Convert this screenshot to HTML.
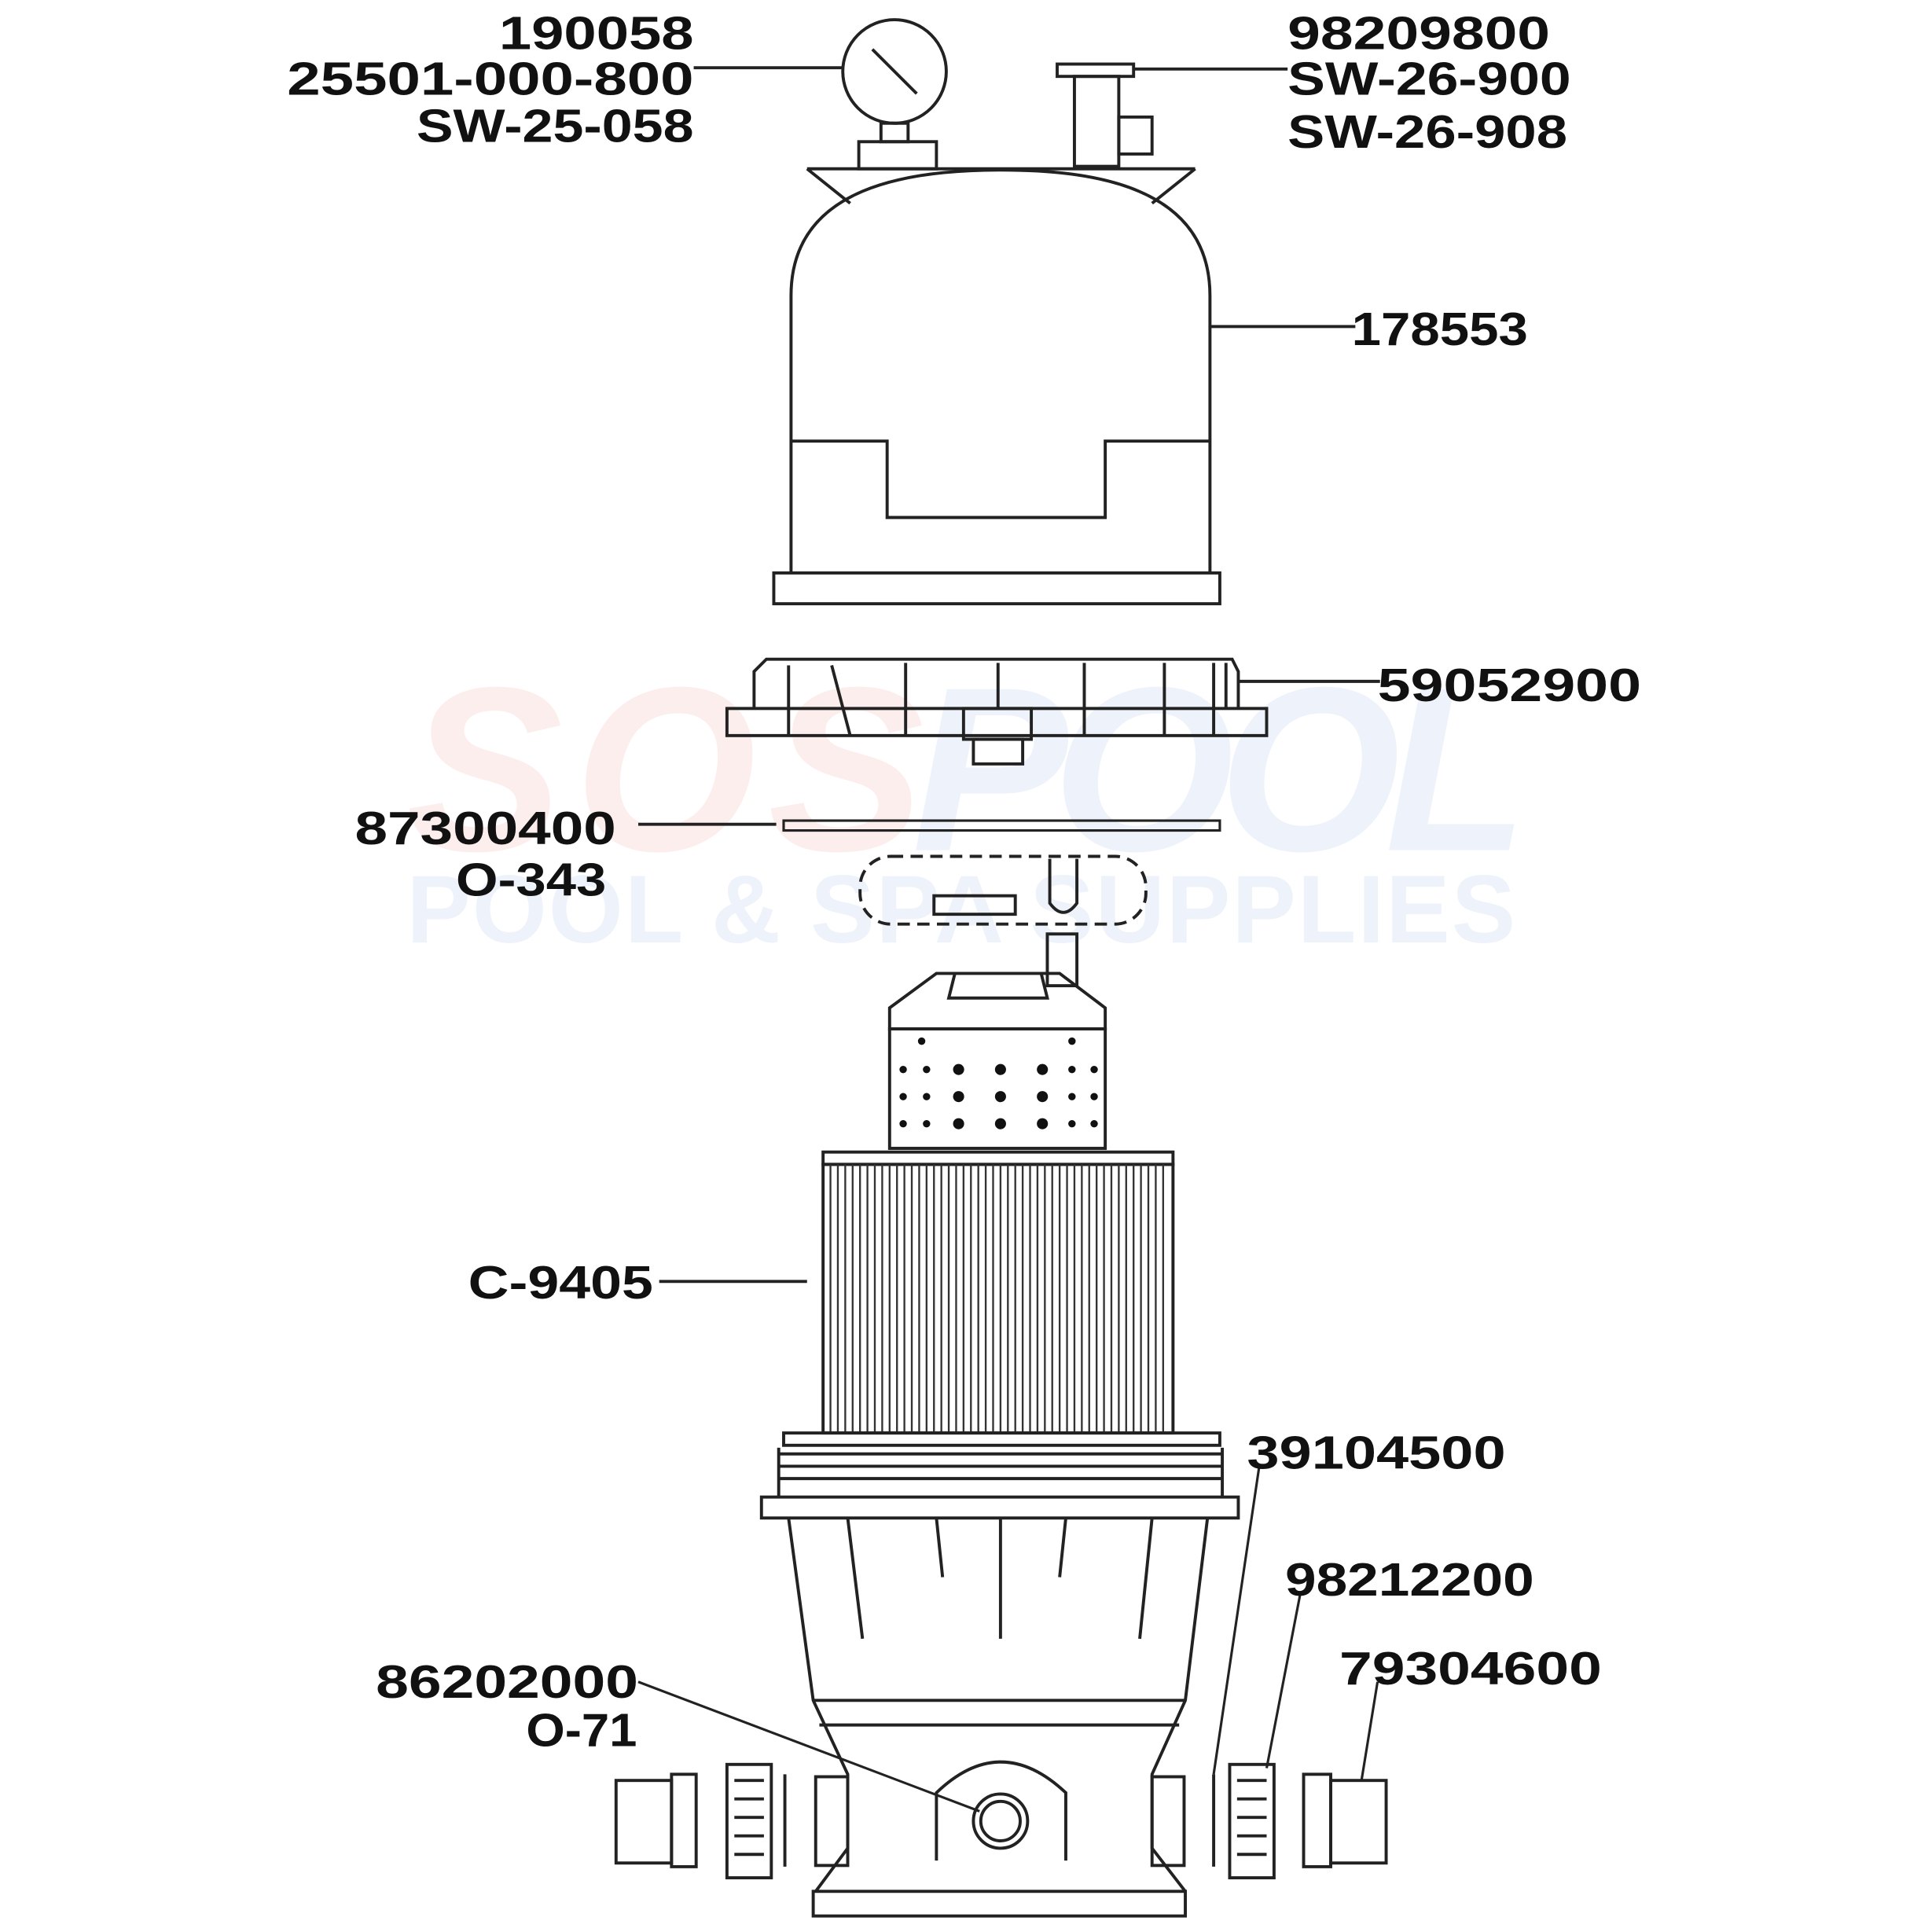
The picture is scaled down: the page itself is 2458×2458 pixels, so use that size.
<!DOCTYPE html>
<html><head><meta charset="utf-8">
<style>
html,body{margin:0;padding:0;background:#fff;}
svg{display:block;}
text{font-family:"Liberation Sans",sans-serif;font-weight:bold;fill:#111;}
</style></head>
<body>
<svg width="2458" height="2458" viewBox="0 0 1568 1568" xmlns="http://www.w3.org/2000/svg">
<rect width="1568" height="1568" fill="#fff"/>
<text x="330" y="690" font-size="190" style="fill:#fdeeee;font-style:italic" textLength="420">SOS</text>
<text x="740" y="690" font-size="190" style="fill:#eef2fb;font-style:italic" textLength="500">POOL</text>
<text x="330" y="765" font-size="78" style="fill:#eef2fb" textLength="900">POOL &amp; SPA SUPPLIES</text>

<g fill="none" stroke="#222" stroke-width="2.5">
<circle cx="726" cy="58" r="42"/>
<line x1="708" y1="40" x2="744" y2="76"/>
<rect x="715" y="100" width="22" height="15"/>
<rect x="697" y="115" width="63" height="22"/>
<line x1="563" y1="55" x2="684" y2="55"/>
<rect x="858" y="52" width="62" height="10"/>
<rect x="872" y="62" width="36" height="73"/>
<rect x="908" y="95" width="27" height="30"/>
<line x1="920" y1="56" x2="1045" y2="56"/>
<path d="M655 137 H970 M655 137 L690 165 M970 137 L935 165"/>
<path d="M642 465 V240 C642 150 740 138 812 138 C885 138 982 150 982 240 V465"/>
<path d="M642 358 H720 V420 H897 V358 H982"/>
<rect x="628" y="465" width="362" height="25"/>
<line x1="982" y1="265" x2="1100" y2="265"/>
<path d="M612 575 V545 L622 535 H1000 L1005 545 V575"/>
<rect x="590" y="575" width="438" height="22"/>
<path d="M640 540 V597 M675 540 L690 597 M735 538 V597 M810 538 V575 M880 538 V597 M945 538 V597 M985 538 V597 M995 538 V575"/>
<rect x="782" y="575" width="55" height="25"/>
<rect x="790" y="600" width="40" height="20"/>
<line x1="1005" y1="553" x2="1120" y2="553"/>
<rect x="636" y="666" width="354" height="8" stroke-width="2"/>
<line x1="518" y1="669" x2="630" y2="669"/>
<rect x="698" y="695" width="232" height="55" rx="25" stroke-dasharray="10 6"/>
<rect x="758" y="727" width="66" height="15"/>
<path d="M852 697 V733 Q863 748 874 733 V697"/>
<rect x="850" y="758" width="24" height="42"/>
<path d="M722 835 V818 L760 790 H860 L897 818 V835 Z"/>
<path d="M775 790 L770 810 H850 L845 790"/>
<rect x="722" y="835" width="175" height="97"/>
</g>
<g fill="#111">
<circle cx="748" cy="845" r="3"/><circle cx="870" cy="845" r="3"/>
<circle cx="733" cy="868" r="3"/><circle cx="733" cy="890" r="3"/><circle cx="733" cy="912" r="3"/>
<circle cx="752" cy="868" r="3"/><circle cx="752" cy="890" r="3"/><circle cx="752" cy="912" r="3"/>
<circle cx="778" cy="868" r="4.5"/><circle cx="778" cy="890" r="4.5"/><circle cx="778" cy="912" r="4.5"/>
<circle cx="812" cy="868" r="4.5"/><circle cx="812" cy="890" r="4.5"/><circle cx="812" cy="912" r="4.5"/>
<circle cx="846" cy="868" r="4.5"/><circle cx="846" cy="890" r="4.5"/><circle cx="846" cy="912" r="4.5"/>
<circle cx="870" cy="868" r="3"/><circle cx="870" cy="890" r="3"/><circle cx="870" cy="912" r="3"/>
<circle cx="888" cy="868" r="3"/><circle cx="888" cy="890" r="3"/><circle cx="888" cy="912" r="3"/>
</g>
<g fill="none" stroke="#222" stroke-width="2.5">
<rect x="668" y="935" width="284" height="10"/>
<rect x="668" y="945" width="284" height="218"/>
</g>
<path stroke="#333" stroke-width="1.5" fill="none" d="M674 945V1163M680 945V1163M686 945V1163M692 945V1163M698 945V1163M704 945V1163M710 945V1163M716 945V1163M722 945V1163M728 945V1163M734 945V1163M740 945V1163M746 945V1163M752 945V1163M758 945V1163M764 945V1163M770 945V1163M776 945V1163M782 945V1163M788 945V1163M794 945V1163M800 945V1163M806 945V1163M812 945V1163M818 945V1163M824 945V1163M830 945V1163M836 945V1163M842 945V1163M848 945V1163M854 945V1163M860 945V1163M866 945V1163M872 945V1163M878 945V1163M884 945V1163M890 945V1163M896 945V1163M902 945V1163M908 945V1163M914 945V1163M920 945V1163M926 945V1163M932 945V1163M938 945V1163M944 945V1163"/>
<g fill="none" stroke="#222" stroke-width="2.5">
<line x1="535" y1="1040" x2="655" y2="1040"/>
<rect x="636" y="1163" width="354" height="10"/>
<path d="M632 1180 H992 M632 1190 H992 M632 1200 H992"/>
<path d="M632 1175 V1215 M992 1175 V1215"/>
<rect x="618" y="1215" width="387" height="17"/>
<path d="M640 1232 L660 1380 L688 1440 V1500 L662 1535 M980 1232 L962 1380 L935 1440 V1500 L962 1535"/>
<path d="M660 1380 H962 M665 1400 H957"/>
<path d="M688 1232 L700 1330 M812 1232 V1330 M935 1232 L925 1330 M760 1232 L765 1280 M865 1232 L860 1280"/>
<rect x="660" y="1535" width="302" height="20"/>
<path d="M760 1510 V1455 Q812 1405 865 1455 V1510"/>
<circle cx="812" cy="1478" r="22"/>
<circle cx="812" cy="1478" r="16"/>
<rect x="500" y="1445" width="45" height="67"/>
<rect x="545" y="1440" width="20" height="75"/>
<rect x="590" y="1432" width="36" height="92"/>
<path d="M596 1445 H620 M596 1460 H620 M596 1475 H620 M596 1490 H620 M596 1505 H620"/>
<line x1="637" y1="1440" x2="637" y2="1515"/>
<rect x="662" y="1442" width="26" height="72"/>
<rect x="935" y="1442" width="26" height="72"/>
<line x1="985" y1="1440" x2="985" y2="1515"/>
<rect x="998" y="1432" width="36" height="92"/>
<path d="M1004 1445 H1028 M1004 1460 H1028 M1004 1475 H1028 M1004 1490 H1028 M1004 1505 H1028"/>
<rect x="1058" y="1440" width="22" height="75"/>
<rect x="1080" y="1445" width="45" height="67"/>
<line x1="518" y1="1365" x2="795" y2="1470" stroke-width="2"/>
<line x1="1022" y1="1190" x2="985" y2="1440" stroke-width="2"/>
<line x1="1055" y1="1295" x2="1028" y2="1435" stroke-width="2"/>
<line x1="1118" y1="1365" x2="1105" y2="1445" stroke-width="2"/>
</g>
<g font-size="38">
<text x="405" y="40" textLength="158" lengthAdjust="spacingAndGlyphs">190058</text>
<text x="233" y="77" textLength="330" lengthAdjust="spacingAndGlyphs">25501-000-800</text>
<text x="338" y="115" textLength="225" lengthAdjust="spacingAndGlyphs">SW-25-058</text>
<text x="1045" y="40" textLength="213" lengthAdjust="spacingAndGlyphs">98209800</text>
<text x="1045" y="77" textLength="230" lengthAdjust="spacingAndGlyphs">SW-26-900</text>
<text x="1045" y="120" textLength="227" lengthAdjust="spacingAndGlyphs">SW-26-908</text>
<text x="1097" y="280" textLength="143" lengthAdjust="spacingAndGlyphs">178553</text>
<text x="1118" y="569" textLength="214" lengthAdjust="spacingAndGlyphs">59052900</text>
<text x="288" y="685" textLength="212" lengthAdjust="spacingAndGlyphs">87300400</text>
<text x="370" y="727" textLength="122" lengthAdjust="spacingAndGlyphs">O-343</text>
<text x="380" y="1054" textLength="150" lengthAdjust="spacingAndGlyphs">C-9405</text>
<text x="1012" y="1192" textLength="210" lengthAdjust="spacingAndGlyphs">39104500</text>
<text x="1043" y="1295" textLength="202" lengthAdjust="spacingAndGlyphs">98212200</text>
<text x="1087" y="1367" textLength="213" lengthAdjust="spacingAndGlyphs">79304600</text>
<text x="305" y="1378" textLength="213" lengthAdjust="spacingAndGlyphs">86202000</text>
<text x="427" y="1417" textLength="90" lengthAdjust="spacingAndGlyphs">O-71</text>
</g>
</svg>
</body></html>
